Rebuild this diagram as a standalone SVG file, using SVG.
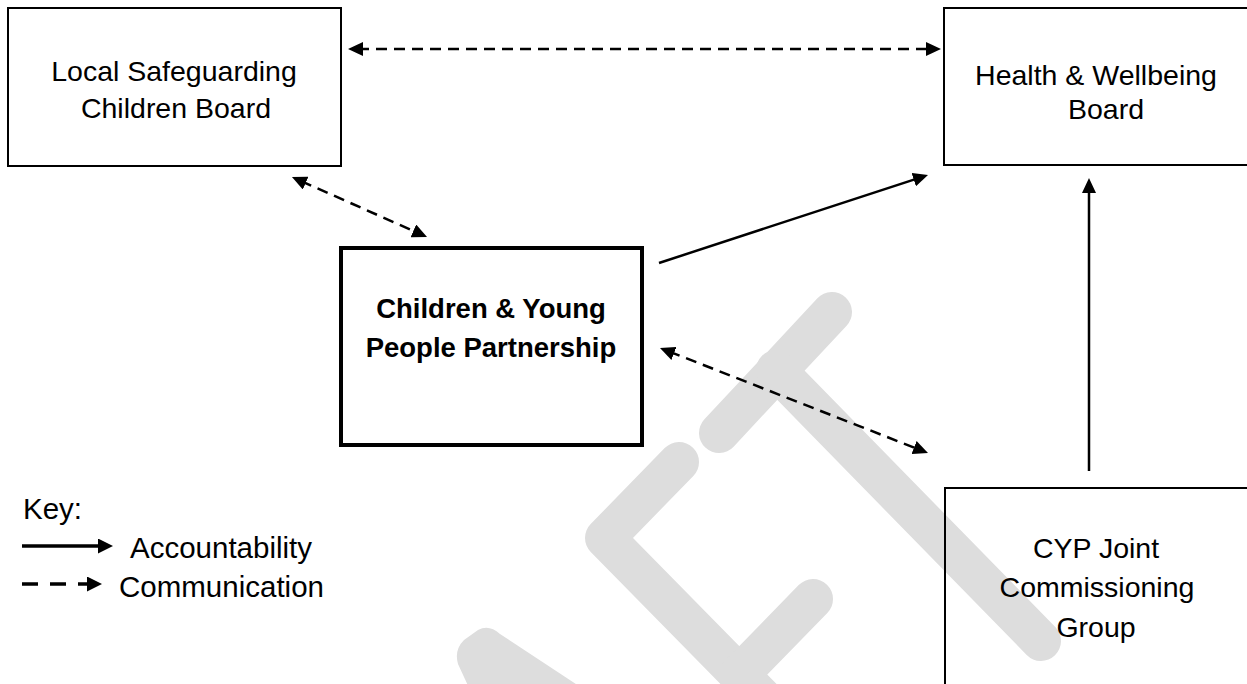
<svg xmlns="http://www.w3.org/2000/svg" width="1247" height="684" viewBox="0 0 1247 684">
<style>
.box{fill:none;stroke:#000;stroke-width:2}
.bold{fill:none;stroke:#000;stroke-width:4}
.t{font-family:"Liberation Sans",Arial,sans-serif;font-size:28.5px;fill:#000;text-anchor:middle}
.tb{font-family:"Liberation Sans",Arial,sans-serif;font-size:27.5px;font-weight:bold;fill:#000;text-anchor:middle}
.k{font-family:"Liberation Sans",Arial,sans-serif;font-size:29.5px;fill:#000}
.solid{fill:none;stroke:#000;stroke-width:2.5}
.dash{fill:none;stroke:#000;stroke-width:2.5;stroke-dasharray:11 7}
.wm{fill:none;stroke:#dddddd;stroke-width:40;stroke-linecap:round;stroke-linejoin:round}
</style>
<defs>
<marker id="ah" markerUnits="userSpaceOnUse" markerWidth="15" markerHeight="14" refX="5" refY="7" orient="auto-start-reverse">
<path d="M0,0 L15,7 L0,14 Z" fill="#000"/>
</marker>
<marker id="ahk" markerUnits="userSpaceOnUse" markerWidth="15" markerHeight="15" refX="5" refY="7.5" orient="auto">
<path d="M0,0 L15,7.5 L0,15 Z" fill="#000"/>
</marker>
</defs>
<rect width="1247" height="684" fill="#fff"/>
<g id="watermark">
<line class="wm" x1="719" y1="433" x2="832" y2="312"/>
<line class="wm" x1="776" y1="370" x2="1041" y2="641"/>
<path class="wm" d="M679,462 L605,538 L780,716"/>
<line class="wm" x1="813" y1="599" x2="739" y2="675"/>
<path d="M470,690 L458,664 Q454,650 464,640 L478,630 Q489,624 500,634 L585,690 Z" fill="#dddddd"/>
</g>
<g id="connectors">
<line class="dash" x1="358" y1="49" x2="931" y2="49" marker-start="url(#ah)" marker-end="url(#ah)"/>
<line class="dash" x1="301.1" y1="181.1" x2="417.9" y2="232.9" marker-start="url(#ah)" marker-end="url(#ah)"/>
<line class="solid" x1="659" y1="263" x2="918.5" y2="178.1" marker-end="url(#ah)"/>
<line class="dash" x1="669.3" y1="351.6" x2="918.7" y2="449.4" marker-start="url(#ah)" marker-end="url(#ah)"/>
<line class="solid" x1="1089" y1="471" x2="1089" y2="188" marker-end="url(#ah)"/>
</g>
<g id="lscb">
<rect class="box" x="8" y="8" width="333" height="158"/>
<text class="t" x="174" y="81">Local Safeguarding</text>
<text class="t" x="176" y="118">Children Board</text>
</g>
<g id="hwb">
<rect class="box" x="944" y="8" width="320" height="157"/>
<text class="t" x="1096" y="85">Health &amp; Wellbeing</text>
<text class="t" x="1106" y="119">Board</text>
</g>
<g id="cypp">
<rect class="bold" x="341" y="248" width="301" height="197"/>
<text class="tb" x="491" y="318">Children &amp; Young</text>
<text class="tb" x="491" y="357">People Partnership</text>
</g>
<g id="cypjcg">
<rect class="box" x="945" y="488" width="320" height="260"/>
<text class="t" x="1096" y="558">CYP Joint</text>
<text class="t" x="1097" y="597">Commissioning</text>
<text class="t" x="1096" y="637">Group</text>
</g>
<g id="key">
<text class="k" x="23" y="519">Key:</text>
<line x1="22" y1="546" x2="103" y2="546" stroke="#000" stroke-width="3.5" marker-end="url(#ahk)"/>
<text class="k" x="130" y="558">Accountability</text>
<line x1="22" y1="584" x2="92" y2="584" stroke="#000" stroke-width="3.5" stroke-dasharray="16 12" marker-end="url(#ahk)"/>
<text class="k" x="119" y="597">Communication</text>
</g>
</svg>
